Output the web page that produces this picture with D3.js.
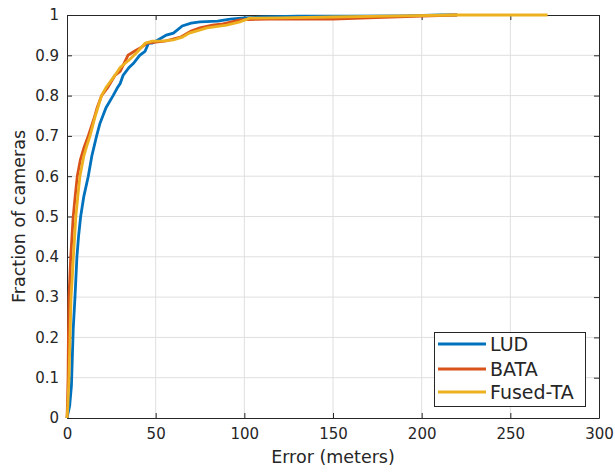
<!DOCTYPE html>
<html>
<head>
<meta charset="utf-8">
<script src="https://cdn.jsdelivr.net/npm/d3@7"></script>
<style>
  html, body { margin: 0; padding: 0; background: #fff; }
  svg { display: block; font-family: "DejaVu Sans", sans-serif; }
</style>
</head>
<body>
<svg id="chart" width="615" height="472"></svg>
<script>
// ---- data ----
const seriesNames = ["LUD", "BATA", "Fused-TA"];
const seriesColors = ["#0072BD", "#D95319", "#EDB120"];

const ludErr  = [0, 1.5, 2.5, 3, 3.5, 4.5, 5.6, 6.5, 7.7, 9.5, 12, 14, 16.7, 18.5, 22, 26, 28.5, 30, 31.6, 35, 37.5, 41, 44, 46, 48, 52, 56, 60, 65, 70, 75, 85, 92, 100, 110, 130, 160, 190, 211, 220];
const ludFrac = [0, 0.03, 0.08, 0.15, 0.22, 0.3, 0.4, 0.45, 0.5, 0.55, 0.6, 0.65, 0.7, 0.73, 0.77, 0.8, 0.82, 0.83, 0.85, 0.87, 0.88, 0.9, 0.91, 0.93, 0.93, 0.94, 0.95, 0.955, 0.973, 0.98, 0.983, 0.985, 0.99, 0.993, 0.995, 0.997, 0.997, 0.998, 1, 1];

const bataErr  = [0, 0.3, 0.6, 0.8, 1.1, 1.6, 2.1, 2.8, 3.5, 4.6, 5.8, 7.5, 9.5, 12, 15, 17, 19.5, 23, 27, 30, 34.4, 38, 42, 45, 50, 56, 64, 70, 75, 82, 88, 97.5, 114, 131, 150, 170, 200, 220];
const bataFrac = [0, 0.04, 0.1, 0.2, 0.3, 0.35, 0.4, 0.45, 0.5, 0.55, 0.6, 0.64, 0.67, 0.7, 0.74, 0.77, 0.8, 0.82, 0.85, 0.86, 0.9, 0.91, 0.92, 0.93, 0.933, 0.936, 0.945, 0.96, 0.968, 0.975, 0.978, 0.988, 0.99, 0.99, 0.99, 0.993, 0.997, 1];

const fusedErr  = [0, 0.5, 1.1, 1.7, 2.3, 3, 3.6, 4.3, 5, 6.1, 7.3, 9.5, 11.5, 13, 16, 19.5, 22, 27, 30, 35.5, 40, 44, 48, 55, 60, 65, 69, 79, 90, 97.5, 103, 120, 150, 180, 219, 271];
const fusedFrac = [0, 0.03, 0.1, 0.2, 0.3, 0.35, 0.4, 0.45, 0.5, 0.55, 0.6, 0.65, 0.68, 0.7, 0.75, 0.8, 0.82, 0.85, 0.87, 0.89, 0.91, 0.93, 0.935, 0.936, 0.938, 0.945, 0.955, 0.968, 0.975, 0.983, 0.992, 0.993, 0.995, 0.997, 1, 1];

const xTicks = [0, 50, 100, 150, 200, 250, 300];
const yTicks = [0, 0.1, 0.2, 0.3, 0.4, 0.5, 0.6, 0.7, 0.8, 0.9, 1];
const xLabel = "Error (meters)";
const yLabel = "Fraction of cameras";

// ---- layout ----
const L = 67, R = 599, T = 15, B = 418;
const svg = d3.select("#chart");
const x = d3.scaleLinear().domain([0, 300]).range([L, R]);
const y = d3.scaleLinear().domain([0, 1]).range([B, T]);
const axisColor = "#262626";

// grid
const grid = svg.append("g");
grid.selectAll(".gx").data(xTicks.slice(1, -1)).enter().append("line")
  .attr("x1", d => x(d)).attr("x2", d => x(d)).attr("y1", T).attr("y2", B)
  .attr("stroke", "#dfdfdf").attr("stroke-width", 1);
grid.selectAll(".gy").data(yTicks.slice(1, -1)).enter().append("line")
  .attr("y1", d => y(d)).attr("y2", d => y(d)).attr("x1", L).attr("x2", R)
  .attr("stroke", "#dfdfdf").attr("stroke-width", 1);

// axes (ticks inward, box)
function styleAxis(g) {
  g.select(".domain").attr("stroke", axisColor);
  g.selectAll(".tick line").attr("stroke", axisColor);
  g.selectAll("text").attr("fill", axisColor).style("font-size", "15px").style("font-family", "DejaVu Sans, sans-serif");
}
const xAxis = svg.append("g").attr("transform", `translate(0,${B})`)
  .call(d3.axisBottom(x).tickValues(xTicks).tickSizeInner(-5).tickSizeOuter(0).tickPadding(10).tickFormat(d3.format("d")));
styleAxis(xAxis);
const xAxisTop = svg.append("g").attr("transform", `translate(0,${T})`)
  .call(d3.axisTop(x).tickValues(xTicks).tickSizeInner(-5).tickSizeOuter(0).tickFormat(""));
styleAxis(xAxisTop);
const yAxis = svg.append("g").attr("transform", `translate(${L},0)`)
  .call(d3.axisLeft(y).tickValues(yTicks).tickSizeInner(-5).tickSizeOuter(0).tickPadding(8).tickFormat(d => d === 0 || d === 1 ? d3.format("d")(d) : d3.format(".1f")(d)));
styleAxis(yAxis);
const yAxisRight = svg.append("g").attr("transform", `translate(${R},0)`)
  .call(d3.axisRight(y).tickValues(yTicks).tickSizeInner(-5).tickSizeOuter(0).tickFormat(""));
styleAxis(yAxisRight);

// axis labels
svg.append("text").attr("x", (L + R) / 2).attr("y", 463).attr("text-anchor", "middle")
  .attr("fill", axisColor).style("font-size", "17.5px").text(xLabel);
svg.append("text").attr("transform", `translate(25,${(T + B) / 2}) rotate(-90)`).attr("text-anchor", "middle")
  .attr("fill", axisColor).style("font-size", "17.5px").text(yLabel);

// lines
const series = [
  { name: seriesNames[0], color: seriesColors[0], pts: ludErr.map((e, i) => [e, ludFrac[i]]) },
  { name: seriesNames[1], color: seriesColors[1], pts: bataErr.map((e, i) => [e, bataFrac[i]]) },
  { name: seriesNames[2], color: seriesColors[2], pts: fusedErr.map((e, i) => [e, fusedFrac[i]]) }
];
const line = d3.line().x(d => x(d[0])).y(d => y(d[1])).curve(d3.curveLinear);
svg.append("g").selectAll("path").data(series).enter().append("path")
  .attr("d", d => line(d.pts)).attr("fill", "none")
  .attr("stroke", d => d.color).attr("stroke-width", 2.8).attr("stroke-linejoin", "miter");

// legend
const lg = svg.append("g");
lg.append("rect").attr("x", 434.5).attr("y", 332.5).attr("width", 151).attr("height", 74)
  .attr("fill", "#fff").attr("stroke", axisColor).attr("stroke-width", 1);
const rows = [344, 369, 392];
series.forEach((s, i) => {
  lg.append("line").attr("x1", 438).attr("x2", 486).attr("y1", rows[i]).attr("y2", rows[i])
    .attr("stroke", s.color).attr("stroke-width", 2.8);
  lg.append("text").attr("x", 490).attr("y", rows[i]).attr("dy", "0.36em")
    .attr("fill", axisColor).style("font-size", "19px").text(s.name);
});
</script>
</body>
</html>
